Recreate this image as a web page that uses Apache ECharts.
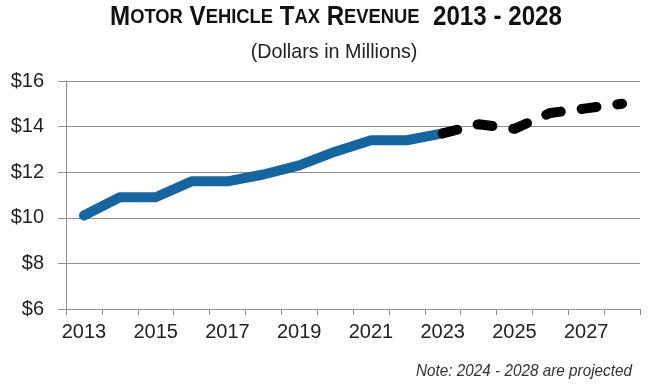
<!DOCTYPE html>
<html>
<head>
<meta charset="utf-8">
<script src="https://cdn.jsdelivr.net/npm/echarts@6/dist/echarts.min.js"></script>
<style>
  html, body { margin: 0; padding: 0; background: #ffffff; }
  #chart { width: 648px; height: 386px; }
</style>
</head>
<body>
<div id="chart"></div>
<script>
// Fiscal years on the category axis
const years = ['2013', '2014', '2015', '2016', '2017', '2018', '2019', '2020',
               '2021', '2022', '2023', '2024', '2025', '2026', '2027', '2028'];
// Actual revenue, $ millions (2013-2023)
const actualRevenue = [10.1, 10.9, 10.9, 11.6, 11.6, 11.9, 12.3, 12.9, 13.4, 13.4, 13.7,
                       null, null, null, null, null];
// Projected revenue, $ millions (joins the actual line at 2023)
const projectedRevenue = [null, null, null, null, null, null, null, null, null, null, 13.7,
                          14.1, 13.9, 14.6, 14.8, 15.0];
// Value axis range and step
const yMin = 6, yMax = 16, yStep = 2;

const FONT = "'Liberation Sans Narrow', 'Arial Narrow', 'Liberation Sans', sans-serif";
const GRAY = '#8f8f8f';

const chart = echarts.init(document.getElementById('chart'), null, { renderer: 'canvas' });

chart.setOption({
  backgroundColor: '#ffffff',
  animation: false,
  // Headings and footnote, drawn slightly condensed
  graphic: [
    {
      type: 'text',
      x: 336, y: 4, scaleX: 0.895,
      style: {
        text: '{b|M}{s|OTOR}{b| V}{s|EHICLE}{b| T}{s|AX}{b| R}{s|EVENUE}{b|  2013 - 2028}',
        textAlign: 'center', textVerticalAlign: 'top',
        rich: {
          b: { fontFamily: FONT, fontWeight: 'bold', fontSize: 27, fill: '#111' },
          s: { fontFamily: FONT, fontWeight: 'bold', fontSize: 20.5, fill: '#111' }
        }
      }
    },
    {
      type: 'text',
      x: 334, y: 42, scaleX: 0.94,
      style: {
        text: '(Dollars in Millions)',
        textAlign: 'center', textVerticalAlign: 'top',
        font: "21px " + FONT, fill: '#222'
      }
    },
    {
      type: 'text',
      x: 632, y: 363, scaleX: 0.9,
      style: {
        text: 'Note: 2024 - 2028 are projected',
        textAlign: 'right', textVerticalAlign: 'top',
        font: "italic 17px " + FONT, fill: '#333'
      }
    }
  ],
  grid: { left: 66, right: 8, top: 81, bottom: 77, containLabel: false },
  xAxis: {
    type: 'category',
    data: years,
    boundaryGap: true,
    axisLine: { show: true, lineStyle: { color: GRAY, width: 1 } },
    axisTick: { show: true, alignWithLabel: false, interval: 0, length: 6, lineStyle: { color: GRAY } },
    axisLabel: { interval: 1, margin: 13, fontFamily: FONT, fontSize: 20, color: '#222' },
    splitLine: { show: false }
  },
  yAxis: {
    type: 'value',
    min: yMin, max: yMax, interval: yStep,
    axisLine: { show: true, lineStyle: { color: GRAY, width: 1 } },
    axisTick: { show: true, length: 8, lineStyle: { color: GRAY } },
    axisLabel: {
      margin: 22, fontFamily: FONT, fontSize: 20, color: '#222',
      formatter: v => '$' + v
    },
    splitLine: { show: true, lineStyle: { color: GRAY, width: 1 } }
  },
  series: [
    {
      name: 'Actual',
      type: 'line',
      data: actualRevenue,
      symbol: 'none',
      smooth: false,
      lineStyle: { color: '#17659f', width: 10, cap: 'round', join: 'round' },
      z: 2
    },
    {
      name: 'Projected',
      type: 'line',
      data: projectedRevenue,
      symbol: 'none',
      smooth: false,
      lineStyle: { color: '#000000', width: 10, type: [15, 21], cap: 'round', join: 'round' },
      z: 3
    }
  ]
});
</script>
</body>
</html>
